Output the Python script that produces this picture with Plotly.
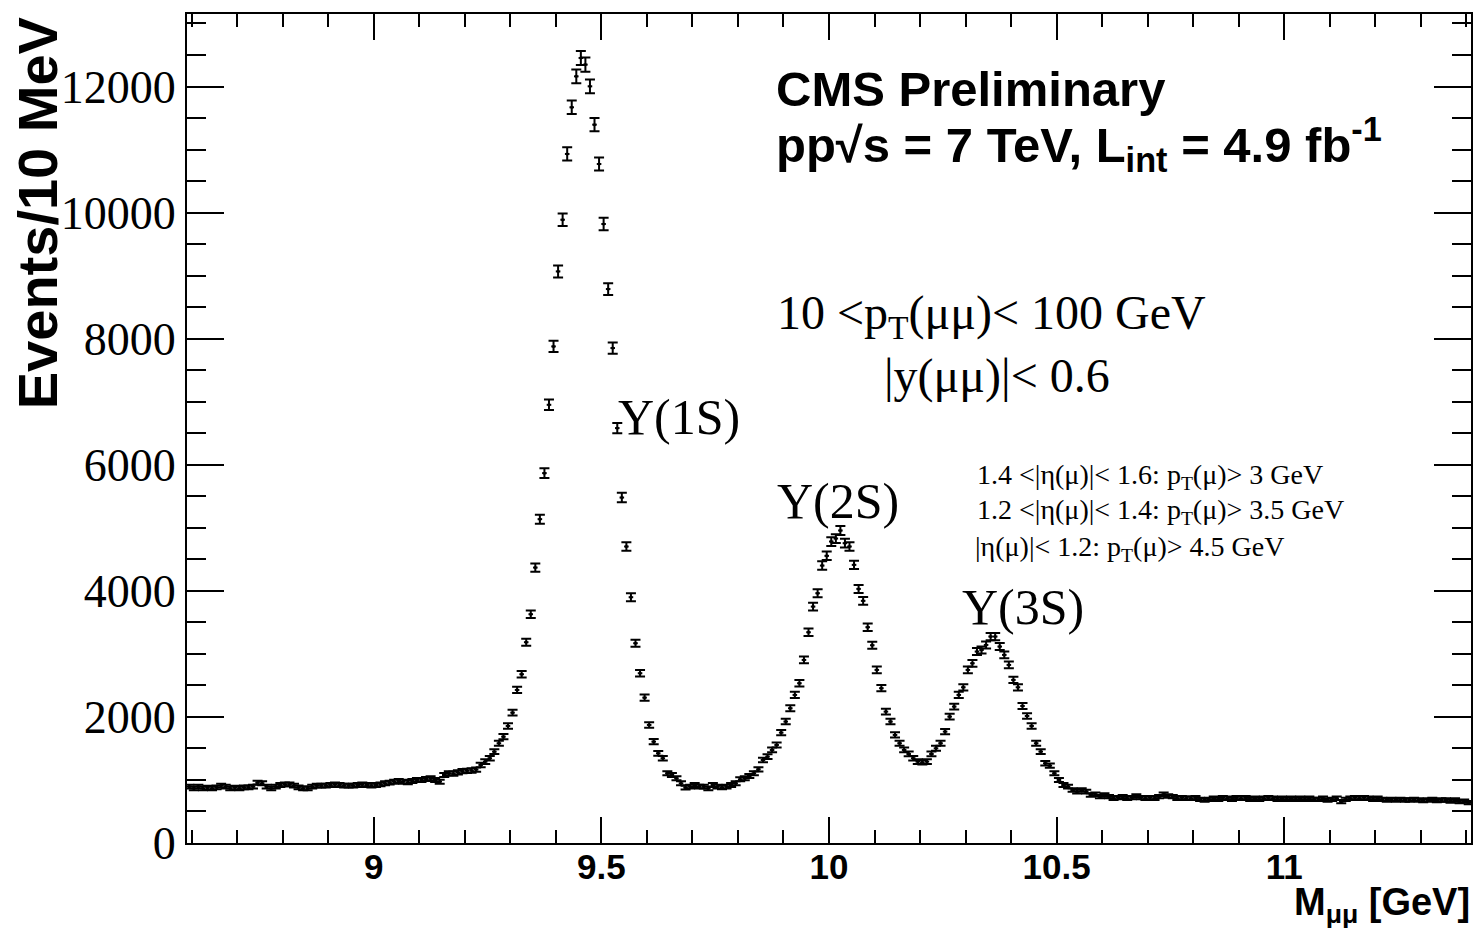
import numpy as np
import plotly.graph_objects as go

# Dimuon invariant mass spectrum, 10 MeV bins from 8.59 to 11.41 GeV
bin_low = 8.59
bin_width = 0.01

counts = [
    894, 868, 894, 868, 878, 868, 884, 910, 894, 868,
    878, 868, 884, 884, 894, 957, 947, 894, 868, 894,
    920, 931, 931, 910, 884, 868, 868, 894, 910, 910,
    910, 920, 931, 920, 910, 910, 910, 920, 931, 920,
    910, 920, 931, 947, 957, 973, 984, 973, 963, 984,
    1000, 1000, 1016, 1026, 1000, 973, 1079, 1106, 1100, 1122,
    1140, 1145, 1150, 1165, 1238, 1291, 1344, 1449, 1582, 1687,
    1857, 2068, 2428, 2677, 3185, 3629, 4369, 5137, 5867, 6951,
    7877, 9067, 9887, 10930, 11670, 12161, 12453, 12347, 12003, 11395,
    10771, 9819, 8787, 7851, 6581, 5480, 4703, 3899, 3169, 2693,
    2306, 1873, 1608, 1423, 1344, 1106, 1079, 1026, 947, 878,
    894, 920, 894, 894, 868, 920, 894, 884, 894, 920,
    947, 1010, 1026, 1063, 1106, 1169, 1317, 1370, 1476, 1555,
    1751, 1926, 2137, 2349, 2534, 2904, 3343, 3750, 3962, 4401,
    4555, 4782, 4830, 4957, 4756, 4703, 4412, 4031, 3841, 3423,
    3137, 2746, 2455, 2084, 1926, 1714, 1582, 1476, 1412, 1344,
    1291, 1280, 1291, 1412, 1502, 1582, 1767, 2005, 2164, 2349,
    2470, 2746, 2851, 3037, 3063, 3142, 3275, 3275, 3116, 2984,
    2825, 2587, 2470, 2174, 2015, 1857, 1582, 1450, 1264, 1227,
    1106, 1000, 920, 894, 841, 815, 841, 815, 762, 772,
    735, 762, 735, 709, 720, 735, 709, 720, 746, 720,
    709, 720, 709, 735, 772, 746, 735, 709, 720, 709,
    709, 720, 693, 682, 693, 709, 693, 720, 709, 693,
    720, 709, 720, 693, 709, 693, 709, 720, 709, 693,
    709, 693, 709, 693, 709, 693, 709, 693, 693, 709,
    682, 693, 709, 656, 693, 709, 720, 709, 720, 709,
    693, 709, 693, 682, 693, 682, 693, 682, 682, 693,
    682, 671, 682, 693, 671, 682, 682, 666, 682, 656,
    666, 640,
]

x_tick_vals = [9, 9.5, 10, 10.5, 11]
y_tick_vals = [0, 2000, 4000, 6000, 8000, 10000, 12000]

centers = bin_low + bin_width * (np.arange(len(counts)) + 0.5)
errors = np.sqrt(np.array(counts, dtype=float))

W, H = 1479, 928
L, R, T, B = 187, 1473, 14, 843


def px(x):
    return (x - L) / (R - L)


def py(y):
    return (B - y) / (B - T)


SANS = "Liberation Sans"
SERIF = "Liberation Serif"

fig = go.Figure()
fig.add_trace(go.Scatter(
    x=centers, y=counts, mode="markers",
    marker=dict(color="black", size=3),
    error_y=dict(type="data", array=errors, color="black", thickness=2, width=5),
    error_x=dict(type="constant", value=bin_width / 2, color="black", thickness=2, width=0),
    hoverinfo="x+y",
))

annotations = []


def label(text, x, y, size, family, bold=False, xanchor="left", angle=0):
    annotations.append(dict(
        text=text, x=px(x), y=py(y), xref="paper", yref="paper",
        xanchor=xanchor, yanchor="middle", showarrow=False, textangle=angle,
        font=dict(family=family, size=size, color="black",
                  weight="bold" if bold else "normal"),
    ))


label("CMS Preliminary", 775, 89, 49, SANS, bold=True)
label("pp\u221as = 7 TeV, L<sub>int</sub> = 4.9 fb<sup>-1</sup>", 775, 144, 49, SANS, bold=True)
label("10 &lt;p<sub>T</sub>(\u03bc\u03bc)&lt; 100 GeV", 776, 316, 48, SERIF)
label("|y(\u03bc\u03bc)|&lt; 0.6", 883, 376, 48, SERIF)
label("\u03a5(1S)", 617, 417, 50, SERIF)
label("\u03a5(2S)", 776, 501, 50, SERIF)
label("\u03a5(3S)", 961, 607, 50, SERIF)
label("1.4 &lt;|\u03b7(\u03bc)|&lt; 1.6: p<sub>T</sub>(\u03bc)&gt; 3 GeV", 976, 477, 28, SERIF)
label("1.2 &lt;|\u03b7(\u03bc)|&lt; 1.4: p<sub>T</sub>(\u03bc)&gt; 3.5 GeV", 976, 512, 28, SERIF)
label("|\u03b7(\u03bc)|&lt; 1.2: p<sub>T</sub>(\u03bc)&gt; 4.5 GeV", 974, 548, 28, SERIF)
label("M<sub>\u03bc\u03bc</sub> [GeV]", 1474, 905, 38, SANS, bold=True, xanchor="right")
label("Events/10 MeV", 37, 213, 56, SANS, bold=True, xanchor="center", angle=-90)

fig.update_layout(
    width=W, height=H,
    margin=dict(l=L, r=W - R, t=T, b=H - B, pad=0),
    paper_bgcolor="white", plot_bgcolor="white",
    showlegend=False,
    annotations=annotations,
    xaxis=dict(
        range=[bin_low, bin_low + bin_width * len(counts)],
        tickvals=x_tick_vals, ticktext=[f"{v:g}" for v in x_tick_vals],
        ticks="inside", ticklen=26, tickwidth=2, tickcolor="black",
        minor=dict(dtick=0.1, tick0=9, ticks="inside", ticklen=13, tickwidth=2, tickcolor="black"),
        showline=True, linecolor="black", linewidth=2, mirror="allticks",
        showgrid=False, zeroline=False,
        ticklabelstandoff=-8,
        tickfont=dict(family=SANS, size=35, color="black", weight="bold"),
    ),
    yaxis=dict(
        range=[0, 13150],
        tickvals=y_tick_vals, ticktext=[str(v) for v in y_tick_vals],
        ticks="inside", ticklen=37, tickwidth=2, tickcolor="black",
        minor=dict(dtick=500, tick0=0, ticks="inside", ticklen=19, tickwidth=2, tickcolor="black"),
        showline=True, linecolor="black", linewidth=2, mirror="allticks",
        showgrid=False, zeroline=False,
        tickfont=dict(family=SERIF, size=46, color="black"),
    ),
)

fig.write_html("out.html")
